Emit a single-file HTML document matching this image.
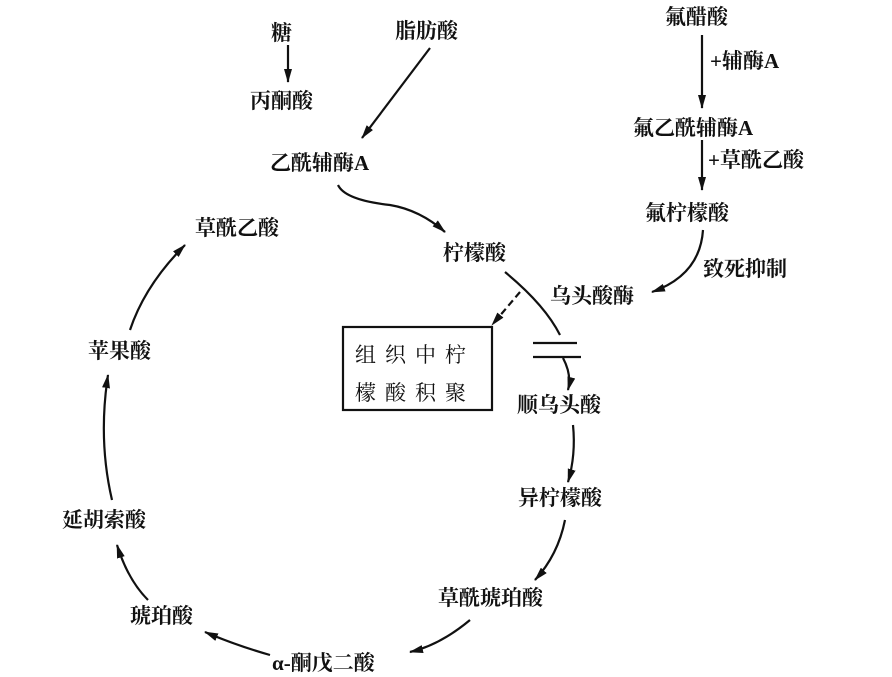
<!DOCTYPE html>
<html><head><meta charset="utf-8"><style>
body{margin:0;background:#fff;}
svg{display:block}
text{font-family:"Liberation Serif","Noto Serif CJK SC","Noto Sans CJK SC",serif;font-size:21px;fill:#111;font-weight:bold}
</style></head><body>
<svg width="892" height="677" viewBox="0 0 892 677" xmlns="http://www.w3.org/2000/svg">
<defs><marker id="a" markerWidth="14" markerHeight="8" refX="13" refY="4" orient="auto" markerUnits="userSpaceOnUse"><path d="M0,0 L14,4 L0,8 Z" fill="#111"/></marker></defs>
<g stroke="#111" stroke-width="2.2" fill="none">
<line x1="288" y1="45" x2="288" y2="82" marker-end="url(#a)"/>
<line x1="430" y1="48" x2="362" y2="138" marker-end="url(#a)"/>
<line x1="702" y1="35" x2="702" y2="108" marker-end="url(#a)"/>
<line x1="702" y1="140" x2="702" y2="190" marker-end="url(#a)"/>
<path d="M703,230 Q700,275 652,292" marker-end="url(#a)"/>
<path d="M338,185 Q345,200 390,205 Q420,210 445,232" marker-end="url(#a)"/>
<path d="M505,272 Q545,305 560,335"/>
<path d="M563,358 Q572,375 568,390" marker-end="url(#a)"/>
<line x1="533" y1="343" x2="577" y2="343"/>
<line x1="533" y1="357" x2="581" y2="357"/>
<path d="M520,292 L492,325" stroke-dasharray="7,4" marker-end="url(#a)"/>
<path d="M573,425 Q576,455 568,482" marker-end="url(#a)"/>
<path d="M565,520 Q558,555 535,580" marker-end="url(#a)"/>
<path d="M470,620 Q440,645 410,652" marker-end="url(#a)"/>
<path d="M270,655 Q235,645 205,632" marker-end="url(#a)"/>
<path d="M148,600 Q128,580 117,545" marker-end="url(#a)"/>
<path d="M112,500 Q98,440 108,375" marker-end="url(#a)"/>
<path d="M130,330 Q145,285 185,245" marker-end="url(#a)"/>
<rect x="343" y="327" width="149" height="83"/>
</g>
<text x="271" y="40">糖</text>
<text x="395" y="38">脂肪酸</text>
<text x="250" y="108">丙酮酸</text>
<text x="270" y="170">乙酰辅酶A</text>
<text x="665" y="24">氟醋酸</text>
<text x="710" y="68">+辅酶A</text>
<text x="633" y="135">氟乙酰辅酶A</text>
<text x="708" y="167">+草酰乙酸</text>
<text x="645" y="220">氟柠檬酸</text>
<text x="703" y="276">致死抑制</text>
<text x="550" y="303">乌头酸酶</text>
<text x="195" y="235">草酰乙酸</text>
<text x="443" y="260">柠檬酸</text>
<text x="355" y="362" style="letter-spacing:9px;font-weight:normal">组织中柠</text>
<text x="355" y="400" style="letter-spacing:9px;font-weight:normal">檬酸积聚</text>
<text x="517" y="412">顺乌头酸</text>
<text x="518" y="505">异柠檬酸</text>
<text x="438" y="605">草酰琥珀酸</text>
<text x="272" y="670">α-酮戊二酸</text>
<text x="130" y="623">琥珀酸</text>
<text x="62" y="527">延胡索酸</text>
<text x="88" y="358">苹果酸</text>
</svg>
</body></html>
